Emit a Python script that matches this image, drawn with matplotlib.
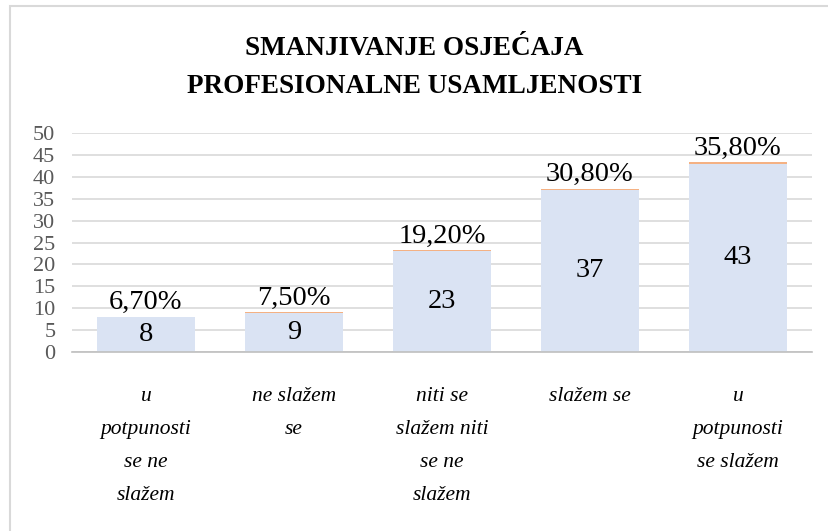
import matplotlib.pyplot as plt
import matplotlib.patches as patches

SERIF = ['Liberation Serif', 'DejaVu Serif']
plt.rcParams['font.family'] = SERIF

# podaci
kategorije = ['u\npotpunosti\nse ne\nslažem', 'ne slažem\nse', 'niti se\nslažem niti\nse ne\nslažem',
              'slažem se', 'u\npotpunosti\nse slažem']
broj = [8, 9, 23, 37, 43]
postotak = [0.067, 0.075, 0.192, 0.308, 0.358]
postotak_txt = ['6,70%', '7,50%', '19,20%', '30,80%', '35,80%']
y_ticks = [0, 5, 10, 15, 20, 25, 30, 35, 40, 45, 50]

W, H = 829, 531
fig = plt.figure(figsize=(W / 100, H / 100), dpi=100)
fig.patch.set_facecolor('white')

# okvir grafikona (desno i dolje odrezan)
fig.add_artist(patches.Rectangle((10 / W, -0.05), 1.1, 1 - 6.5 / H + 0.05,
                                 transform=fig.transFigure, fill=False,
                                 edgecolor='#d9d9d9', linewidth=1.5))

ax = fig.add_axes([72 / W, 1 - 352 / H, 740 / W, 219 / H])
x = range(len(broj))
bars = ax.bar(x, broj, width=0.66, color='#dae3f3', zorder=2)
ax.bar(x, postotak, bottom=broj, width=0.66, color='#f4b183', zorder=2)

for i, b in enumerate(bars):
    ax.text(i, broj[i] / 2, str(broj[i]), ha='center', va='center', fontsize=20.5,
            family=SERIF, zorder=3)
    ax.annotate(postotak_txt[i], (i, broj[i] + postotak[i]), xytext=(0, 1),
                textcoords='offset points', ha='center', va='bottom', fontsize=20.5,
                family=SERIF, zorder=3)

ax.set_ylim(0, 50)
ax.set_xlim(-0.5, 4.5)
ax.set_yticks(y_ticks)
ax.set_yticklabels([str(t) for t in y_ticks], color='#595959', fontsize=16, family=SERIF)
ax.tick_params(axis='y', length=0, pad=12)
ax.tick_params(axis='x', length=0, pad=25)
ax.set_xticks(list(x))
ax.set_xticklabels(kategorije, fontsize=15.5, style='italic', linespacing=2.0, va='top', family=SERIF)
ax.yaxis.grid(True, color='#d9d9d9', linewidth=1.2, zorder=0)
ax.set_axisbelow(True)
for s in ['left', 'right', 'top']:
    ax.spines[s].set_visible(False)
ax.spines['bottom'].set_color('#bfbfbf')
ax.spines['bottom'].set_linewidth(1.2)

fig.text(0.5, 1 - 67.5 / H, 'SMANJIVANJE OSJEĆAJA\nPROFESIONALNE USAMLJENOSTI', ha='center', va='center',
         fontsize=19.5, fontweight='bold', linespacing=1.7, family=SERIF)

fig.savefig('out.png', dpi=100, facecolor='white')
